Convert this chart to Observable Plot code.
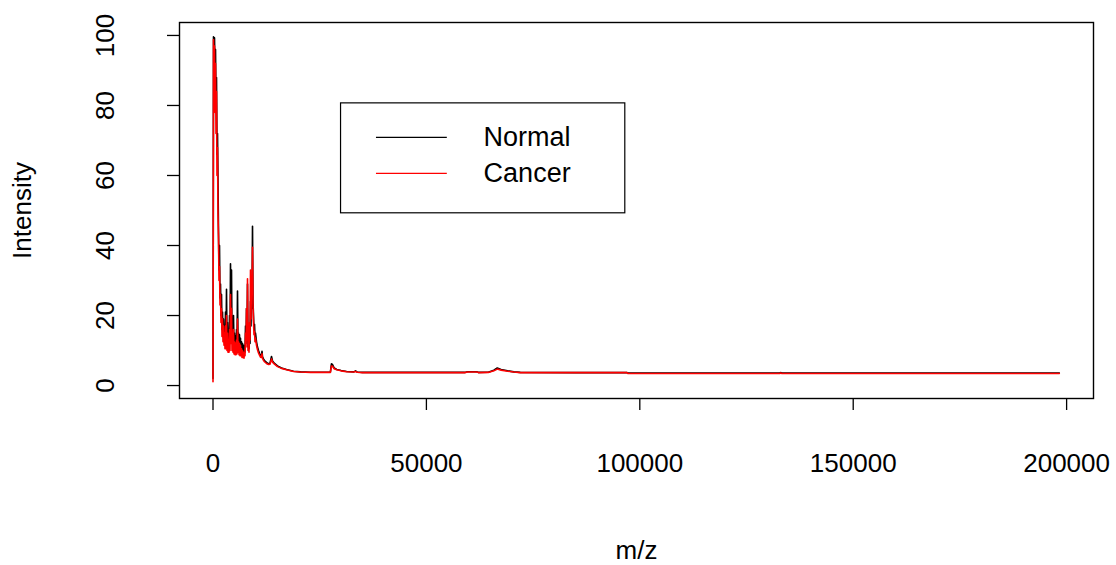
<!DOCTYPE html>
<html>
<head>
<meta charset="utf-8">
<script src="https://cdn.jsdelivr.net/npm/d3@7"></script>
<script src="https://cdn.jsdelivr.net/npm/@observablehq/plot@0.6"></script>
<style>
  html, body { margin: 0; padding: 0; background: #fff; }
  #chart svg { display: block; }
</style>
</head>
<body>
<div id="chart"></div>
<script>
// Mass-to-charge positions shared by both mean spectra
const mz = [
  0, 60, 117, 234, 351, 469, 586, 703, 820, 937,
  1054, 1172, 1289, 1406, 1523, 1640, 1757, 1874, 1992, 2109,
  2226, 2343, 2460, 2577, 2694, 2811, 2929, 3046, 3163, 3280,
  3397, 3514, 3632, 3749, 3866, 3983, 4100, 4218, 4335, 4452,
  4569, 4686, 4803, 4920, 5037, 5155, 5272, 5389, 5506, 5623,
  5740, 5857, 5975, 6092, 6209, 6326, 6443, 6560, 6678, 6795,
  6912, 7029, 7146, 7263, 7380, 7498, 7615, 7732, 7849, 7966,
  8083, 8200, 8318, 8435, 8552, 8669, 8786, 8903, 9021, 9138,
  9255, 9372, 9489, 9606, 9723, 9840, 9958, 10192, 10426, 10661,
  10895, 11129, 11364, 11481, 11598, 11832, 12066, 12535, 13004, 13355,
  13707, 13941, 14410, 15113, 16050, 17222, 18862, 20500, 22850, 25000,
  27500, 27750, 28000, 28400, 29000, 30000, 31300, 33000, 33400, 33800,
  35000, 45000, 59000, 59600, 61800, 62200, 64500, 65800, 66600, 67500,
  69000, 70500, 72000, 85000, 97000, 97200, 120000, 132800, 133000, 133300,
  160000, 198300
];

// Intensity of the normal-tissue spectrum
const normalIntensity = [
  2.0, 45, 99.6, 97, 99.3, 90, 96, 81, 88, 66,
  72, 58, 44, 33, 40, 25, 29, 20, 26, 16,
  21, 14, 19, 13, 16, 12, 21, 12.5, 27.5, 13,
  18, 11.5, 15, 11, 20, 12, 34.8, 16, 33, 13,
  18, 11, 20, 11, 15, 10.5, 14, 10.5, 16, 11,
  27, 12, 15, 10.5, 14.5, 10, 13.5, 10, 12.5, 9.5,
  12, 9.5, 11.5, 9, 11, 9.5, 17, 12, 22, 13,
  29, 11, 13, 10.5, 15, 12, 24, 17, 30, 22,
  45.5, 24, 20, 16, 17.5, 14, 15, 12.5, 11, 10,
  9.2, 8.6, 8.5, 9.8, 8.2, 7.6, 7.1, 6.6, 6.2, 6.4,
  8.3, 7.0, 6.3, 5.6, 5.0, 4.6, 4.1, 3.9, 3.8, 3.8,
  3.8, 6.2, 6.0, 5.0, 4.6, 4.3, 4.0, 3.9, 4.2, 3.85,
  3.75, 3.75, 3.75, 3.95, 3.95, 3.75, 3.8, 4.4, 5.0, 4.6,
  4.2, 3.9, 3.75, 3.7, 3.7, 3.55, 3.55, 3.55, 3.7, 3.55,
  3.55, 3.55
];

// Intensity of the cancer-tissue spectrum
const cancerIntensity = [
  1.1, 40, 98.8, 86, 97, 78, 92, 72, 84, 60,
  68, 49, 42, 30, 34, 23, 26, 18, 22, 14,
  19, 12.5, 17, 11.5, 15, 10.5, 17, 10.5, 20, 10,
  15, 9.5, 13, 9.5, 16, 10, 26, 12, 22, 10,
  15, 9.5, 16, 9, 12.5, 8.8, 12, 8.8, 13, 9,
  19, 9.5, 12.5, 8.8, 12, 8.5, 11.5, 8.5, 10.5, 8,
  10, 8, 9.5, 7.8, 9.5, 8.5, 15, 11, 22, 13,
  30.5, 10, 12, 9.5, 18, 13, 33, 19, 31, 26,
  39.5, 23, 18, 14.5, 15.5, 12.5, 13.5, 11.5, 10.2, 9.3,
  8.7, 8.1, 8.0, 9.1, 7.8, 7.2, 6.8, 6.3, 6.0, 6.1,
  7.6, 6.7, 6.1, 5.4, 4.9, 4.5, 4.0, 3.85, 3.75, 3.75,
  3.75, 5.6, 5.5, 4.8, 4.5, 4.2, 3.95, 3.85, 4.0, 3.8,
  3.7, 3.7, 3.7, 3.85, 3.85, 3.7, 3.75, 4.2, 4.7, 4.4,
  4.1, 3.85, 3.7, 3.7, 3.7, 3.45, 3.45, 3.45, 3.6, 3.45,
  3.45, 3.45
];

const xTicks = [0, 50000, 100000, 150000, 200000];
const yTicks = [0, 20, 40, 60, 80, 100];
const seriesNames = ["Normal", "Cancer"];
const seriesColors = ["black", "red"];
const xTitle = "m/z";
const yTitle = "Intensity";

const normalRows = mz.map((m, i) => ({mz: m, intensity: normalIntensity[i]}));
const cancerRows = mz.map((m, i) => ({mz: m, intensity: cancerIntensity[i]}));

// Legend placed in data space (top-left corner at m/z 30000, intensity 80.6)
const legendBox = {x1: 30000, x2: 96600, y1: 49.2, y2: 80.6};
const legendRows = seriesNames.map((name, i) => ({
  name, color: seriesColors[i], y: [70.9, 60.6][i]
}));

const font = "'Liberation Sans', Arial, Helvetica, sans-serif";

const chart = Plot.plot({
  width: 1116,
  height: 565,
  marginLeft: 179,
  marginRight: 23,
  marginTop: 22,
  marginBottom: 167,
  style: {fontFamily: font, background: "white", color: "black"},
  x: {domain: [-7850, 206300]},
  y: {domain: [-3.7, 103.7]},
  marks: [
    Plot.axisX({ticks: xTicks, tickSize: 12, tickFormat: () => "", strokeWidth: 1.3, label: null}),
    Plot.axisY({ticks: yTicks, tickSize: 12, tickFormat: () => "", strokeWidth: 1.3, label: null}),
    Plot.text(xTicks, {x: d => d, text: d => String(d), frameAnchor: "bottom", dy: 65,
      textAnchor: "middle", lineAnchor: "middle", fontSize: 26}),
    Plot.text(yTicks, {y: d => d, text: d => String(d), frameAnchor: "left", dx: -74,
      rotate: -90, textAnchor: "middle", lineAnchor: "middle", fontSize: 26}),
    Plot.text([xTitle], {text: d => d, frameAnchor: "bottom", dy: 152,
      textAnchor: "middle", lineAnchor: "middle", fontSize: 26}),
    Plot.text([yTitle], {text: d => d, frameAnchor: "left", dx: -157, rotate: -90,
      textAnchor: "middle", lineAnchor: "middle", fontSize: 26}),
    Plot.line(normalRows, {x: "mz", y: "intensity", stroke: seriesColors[0], strokeWidth: 1.6}),
    Plot.line(cancerRows, {x: "mz", y: "intensity", stroke: seriesColors[1], strokeWidth: 1.6}),
    Plot.rect([legendBox], {x1: "x1", x2: "x2", y1: "y1", y2: "y2", fill: "white", stroke: "black", strokeWidth: 1.2}),
    Plot.ruleY(legendRows, {y: "y", x1: 38300, x2: 54900, stroke: "color", strokeWidth: 1.1}),
    Plot.text(legendRows, {x: 63400, y: "y", text: "name", textAnchor: "start", lineAnchor: "middle", fontSize: 27}),
    Plot.frame({stroke: "black", strokeWidth: 1.4})
  ]
});

document.getElementById("chart").appendChild(chart);
</script>
</body>
</html>
